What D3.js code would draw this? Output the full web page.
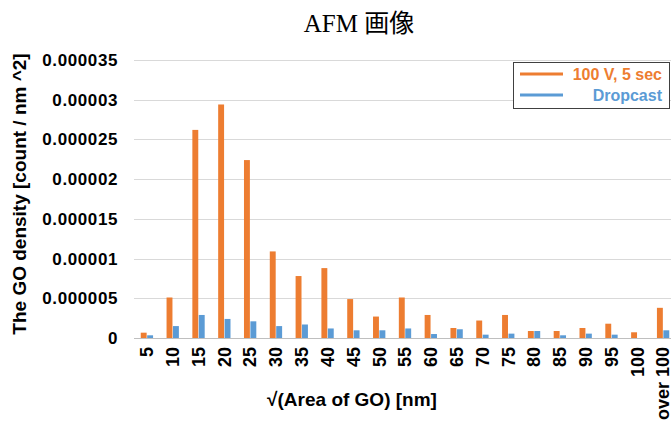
<!DOCTYPE html>
<html>
<head>
<meta charset="utf-8">
<title>AFM 画像</title>
<script src="https://cdnjs.cloudflare.com/ajax/libs/d3/7.8.5/d3.min.js"></script>
<style>
body { margin: 0; background: #fff; }
svg text { font-family: Arial, "Liberation Sans", sans-serif; font-weight: bold; }
.grid line { stroke: #d9d9d9; }
</style>
</head>
<body>
<script>
// categories and series values (count / nm^2)
var categories = ["5","10","15","20","25","30","35","40","45","50","55","60","65","70","75","80","85","90","95","100","over 100"];
var seriesNames = ["100 V, 5 sec", "Dropcast"];
var pulse = [0.67e-6, 5.1e-6, 26.2e-6, 29.4e-6, 22.4e-6, 10.9e-6, 7.8e-6, 8.8e-6, 4.9e-6, 2.7e-6, 5.1e-6,
             2.9e-6, 1.26e-6, 2.2e-6, 2.9e-6, 0.88e-6, 0.88e-6, 1.26e-6, 1.8e-6, 0.72e-6, 3.8e-6];
var dropcast = [0.34e-6, 1.5e-6, 2.9e-6, 2.4e-6, 2.1e-6, 1.5e-6, 1.7e-6, 1.2e-6, 0.97e-6, 0.97e-6, 1.2e-6,
                0.5e-6, 1.1e-6, 0.42e-6, 0.55e-6, 0.88e-6, 0.34e-6, 0.55e-6, 0.42e-6, 0, 0.97e-6];
var yTicks = [0, 0.000005, 0.00001, 0.000015, 0.00002, 0.000025, 0.00003, 0.000035];
var yTickLabels = ["0","0.000005","0.00001","0.000015","0.00002","0.000025","0.00003","0.000035"];

var width = 671, height = 423;
var margin = {top: 60, right: -5, bottom: 85, left: 134};
var colors = ["#ED7D31", "#5B9BD5"];

var svg = d3.select("body").append("svg")
    .attr("width", width)
    .attr("height", height);

var x = d3.scaleBand()
    .domain(categories)
    .range([margin.left, width - margin.right])
    .padding(0);

var y = d3.scaleLinear()
    .domain([0, 0.000035])
    .range([height - margin.bottom, margin.top]);

var xSub = d3.scaleBand()
    .domain(seriesNames)
    .range([0, x.bandwidth()])
    .paddingInner(0.08)
    .paddingOuter(1.05);

// gridlines
svg.append("g")
    .attr("class", "grid")
    .selectAll("line")
    .data(yTicks.slice(1))
  .enter().append("line")
    .attr("x1", margin.left)
    .attr("x2", width)
    .attr("y1", function(d) { return Math.round(y(d)) + 0.5; })
    .attr("y2", function(d) { return Math.round(y(d)) + 0.5; });

// y tick labels
svg.append("g")
    .selectAll("text")
    .data(yTicks)
  .enter().append("text")
    .attr("x", 118)
    .attr("y", function(d) { return y(d); })
    .attr("dy", "0.35em")
    .attr("text-anchor", "end")
    .style("font-size", "17px")
    .style("letter-spacing", "0.6px")
    .text(function(d, i) { return yTickLabels[i]; });

// bars
var rows = categories.map(function(c, i) { return {cat: c, vals: [pulse[i], dropcast[i]]}; });
var groups = svg.selectAll(".grp")
    .data(rows)
  .enter().append("g")
    .attr("class", "grp")
    .attr("transform", function(d) { return "translate(" + x(d.cat) + ",0)"; });

groups.selectAll("rect")
    .data(function(d) { return d.vals.map(function(v, j) { return {name: seriesNames[j], v: v, j: j}; }); })
  .enter().append("rect")
    .attr("x", function(d) { return xSub(d.name); })
    .attr("width", xSub.bandwidth())
    .attr("y", function(d) { return y(d.v); })
    .attr("height", function(d) { return y(0) - y(d.v); })
    .attr("fill", function(d) { return colors[d.j]; });

// baseline
svg.append("line")
    .attr("x1", margin.left).attr("x2", width)
    .attr("y1", Math.round(y(0)) + 0.5).attr("y2", Math.round(y(0)) + 0.5)
    .attr("stroke", "#bfbfbf");

// x tick labels, rotated
svg.append("g")
    .selectAll("text")
    .data(categories)
  .enter().append("text")
    .attr("transform", function(d) {
      return "translate(" + (x(d) + x.bandwidth() / 2) + "," + (y(0) + 9) + ") rotate(-90)";
    })
    .attr("dy", "0.35em")
    .attr("text-anchor", "end")
    .style("font-size", "18px")
    .text(function(d) { return d; });

// axis titles
svg.append("text")
    .attr("x", 352)
    .attr("y", 406)
    .attr("text-anchor", "middle")
    .style("font-size", "19px")
    .text("√(Area of GO) [nm]");

svg.append("text")
    .attr("transform", "translate(26,194) rotate(-90)")
    .attr("text-anchor", "middle")
    .style("font-size", "19px")
    .text("The GO density [count / nm ^2]");

// title
svg.append("text")
    .attr("x", 359)
    .attr("y", 32)
    .attr("text-anchor", "middle")
    .style("font-family", "'Liberation Serif', 'Noto Sans CJK JP', serif")
    .style("font-weight", "normal")
    .style("font-size", "25px")
    .text("AFM 画像");

// legend
var legend = svg.append("g");
legend.append("rect")
    .attr("x", 513.5).attr("y", 62.5)
    .attr("width", 156).attr("height", 46)
    .attr("fill", "#fff")
    .attr("stroke", "#404040");
seriesNames.forEach(function(name, i) {
  var ly = 74 + i * 21;
  legend.append("line")
      .attr("x1", 520).attr("x2", 563)
      .attr("y1", ly).attr("y2", ly)
      .attr("stroke", colors[i])
      .attr("stroke-width", 3);
  legend.append("text")
      .attr("x", 662)
      .attr("y", ly)
      .attr("dy", "0.35em")
      .attr("text-anchor", "end")
      .attr("fill", colors[i])
      .style("font-size", "16px")
      .text(name);
});
</script>
</body>
</html>
